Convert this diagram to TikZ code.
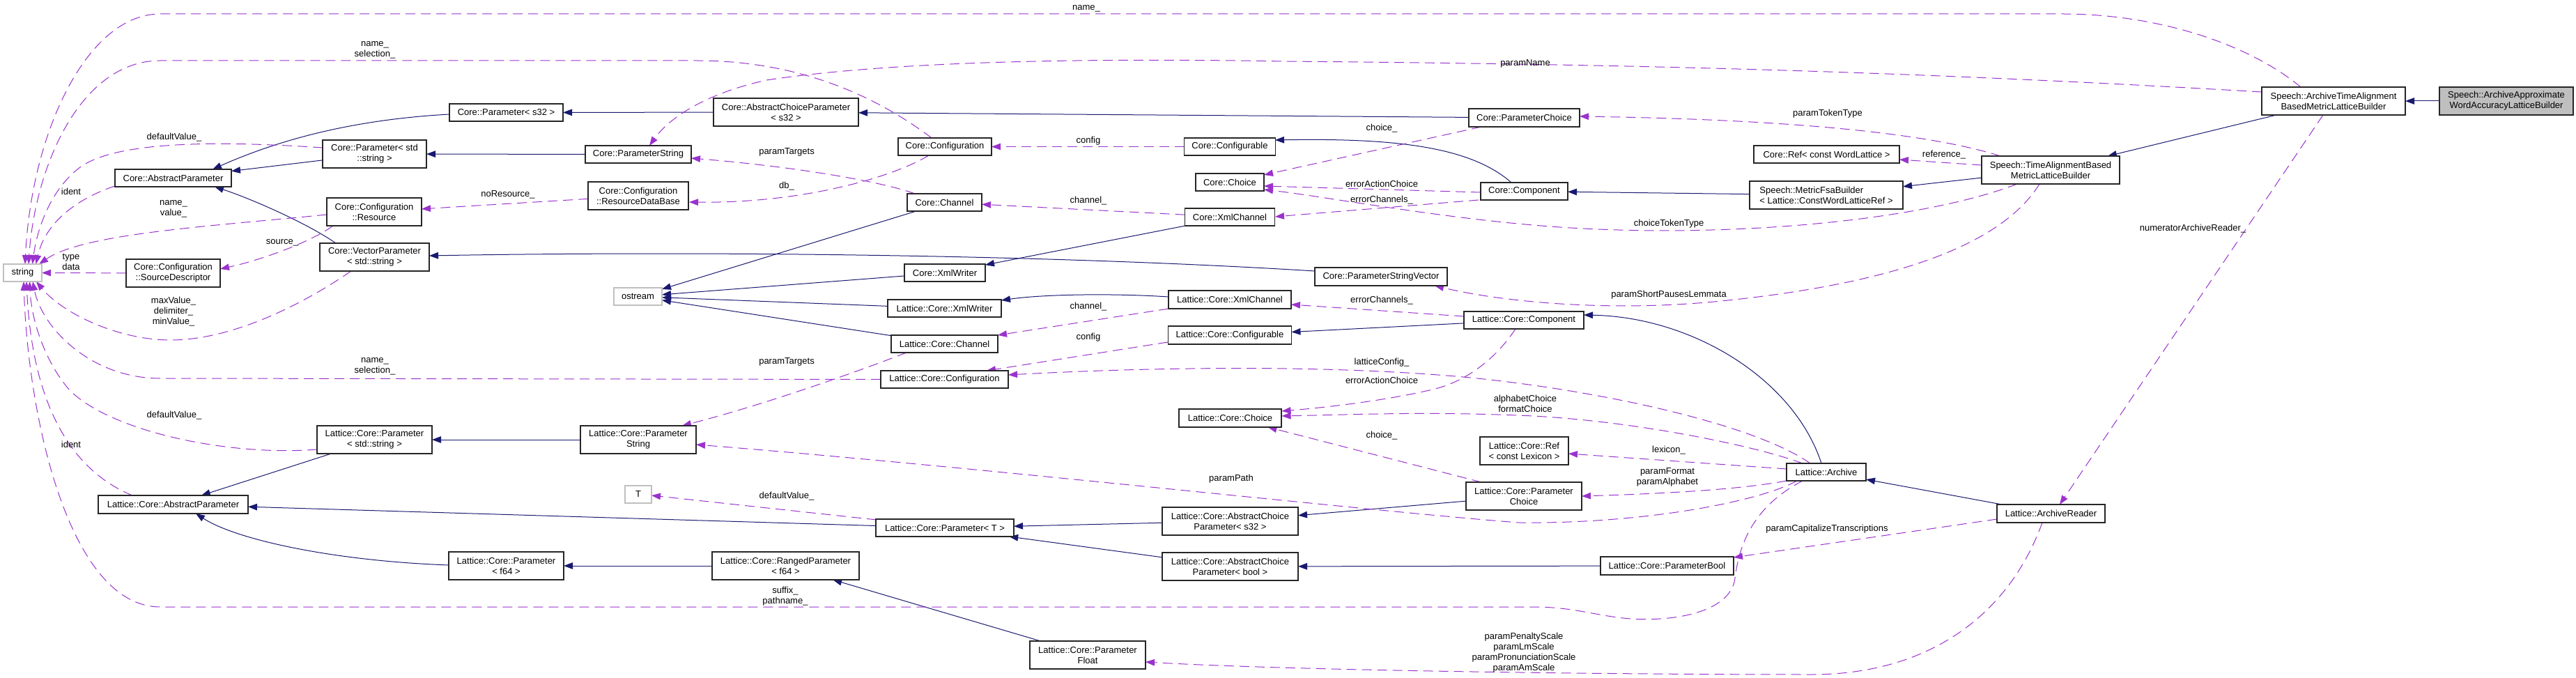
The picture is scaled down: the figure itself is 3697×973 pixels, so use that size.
\documentclass[tikz,border=0pt]{standalone}
\usepackage{fontspec}
\setmainfont{Liberation Sans}
\usetikzlibrary{arrows.meta}
\definecolor{mblue}{HTML}{191970}
\definecolor{dorch}{HTML}{9A32CD}
\definecolor{gbord}{HTML}{BFBFBF}
\pgfdeclarelayer{bg}
\pgfsetlayers{bg,main}
\newcommand{\fs}{\fontsize{13}{15}\selectfont}
\begin{document}
\begin{tikzpicture}[x=1pt,y=-1pt,
  every node/.style={font=\fs},
  box/.style={draw=black!85,line width=1.2pt,fill=white,inner sep=0pt,outer sep=0pt,align=center},
  gbox/.style={box,draw=gbord},
  lab/.style={inner sep=0pt,align=center},
  inh/.style={draw=mblue,line width=1pt,-{Triangle[length=13pt,width=9.5pt]}},
  dep/.style={draw=dorch,line width=1pt,dash pattern=on 14pt off 8pt,-{Triangle[length=13pt,width=9.5pt]}}]
\useasboundingbox (0,0) rectangle (3697,973);
% ---------------- nodes
\node[gbox,minimum width=55pt,minimum height=25pt] (str) at (32.5,391.5) {string};
\node[box,minimum width=167pt,minimum height=25pt] (cap) at (248.5,255.5) {Core::AbstractParameter};
\node[box,minimum width=149pt,minimum height=40pt] (cpstr) at (537.5,221) {Core::Parameter< std\\::string >};
\node[box,minimum width=136pt,minimum height=40pt] (cres) at (537,304) {Core::Configuration\\::Resource};
\node[box,minimum width=157pt,minimum height=40pt] (cvec) at (537.5,369) {Core::VectorParameter\\< std::string >};
\node[box,minimum width=135pt,minimum height=40pt] (csrc) at (248.5,392) {Core::Configuration\\::SourceDescriptor};
\node[box,minimum width=165pt,minimum height=40pt] (lpstr) at (537.5,631) {Lattice::Core::Parameter\\< std::string >};
\node[box,minimum width=215pt,minimum height=26pt] (lap) at (248.5,724) {Lattice::Core::AbstractParameter};
\node[box,minimum width=163pt,minimum height=25pt] (cps32) at (726.5,161.5) {Core::Parameter< s32 >};
\node[box,minimum width=208pt,minimum height=40pt] (cacp) at (1128,161) {Core::AbstractChoiceParameter\\< s32 >};
\node[box,minimum width=152pt,minimum height=25pt] (cpstring) at (916,221.5) {Core::ParameterString};
\node[box,minimum width=144pt,minimum height=40pt] (crdb) at (916,281) {Core::Configuration\\::ResourceDataBase};
\node[gbox,minimum width=69pt,minimum height=25pt] (ostream) at (915.5,425.5) {ostream};
\node[box,minimum width=166pt,minimum height=40pt] (lpstring) at (916,631) {Lattice::Core::Parameter\\String};
\node[gbox,minimum width=38pt,minimum height=25pt] (T) at (916,709.5) {T};
\node[box,minimum width=165pt,minimum height=40pt] (lpf64) at (726.5,812) {Lattice::Core::Parameter\\< f64 >};
\node[box,minimum width=211pt,minimum height=40pt] (lranged) at (1127.5,812) {Lattice::Core::RangedParameter\\< f64 >};
\node[box,minimum width=134pt,minimum height=25pt] (cconf) at (1356,210.5) {Core::Configuration};
\node[box,minimum width=131pt,minimum height=25pt] (cconfb) at (1765,210.5) {Core::Configurable};
\node[box,minimum width=98pt,minimum height=25pt] (cchoice) at (1765,261.5) {Core::Choice};
\node[box,minimum width=107pt,minimum height=25pt] (cchan) at (1355.5,290.5) {Core::Channel};
\node[box,minimum width=129pt,minimum height=25pt] (cxmlch) at (1765,311.5) {Core::XmlChannel};
\node[box,minimum width=116pt,minimum height=25pt] (cxmlw) at (1356,391.5) {Core::XmlWriter};
\node[box,minimum width=163pt,minimum height=25pt] (lxmlw) at (1355.5,442.5) {Lattice::Core::XmlWriter};
\node[box,minimum width=176pt,minimum height=26pt] (lxmlch) at (1765,430) {Lattice::Core::XmlChannel};
\node[box,minimum width=177pt,minimum height=26pt] (lconfb) at (1765,481) {Lattice::Core::Configurable};
\node[box,minimum width=153pt,minimum height=25pt] (lchan) at (1355.5,493.5) {Lattice::Core::Channel};
\node[box,minimum width=183pt,minimum height=25pt] (lconf) at (1355.5,544.5) {Lattice::Core::Configuration};
\node[box,minimum width=147pt,minimum height=26pt] (lchoice) at (1765.5,600) {Lattice::Core::Choice};
\node[box,minimum width=198pt,minimum height=25pt] (lpT) at (1356,757.5) {Lattice::Core::Parameter< T >};
\node[box,minimum width=195pt,minimum height=40pt] (lacps32) at (1765.5,748) {Lattice::Core::AbstractChoice\\Parameter< s32 >};
\node[box,minimum width=195pt,minimum height=40pt] (lacpbool) at (1765.5,813) {Lattice::Core::AbstractChoice\\Parameter< bool >};
\node[box,minimum width=166pt,minimum height=40pt] (lpfloat) at (1561,940) {Lattice::Core::Parameter\\Float};
\node[box,minimum width=159pt,minimum height=26pt] (cpchoice) at (2187.5,169) {Core::ParameterChoice};
\node[box,minimum width=125pt,minimum height=25pt] (ccomp) at (2187.5,274.5) {Core::Component};
\node[box,minimum width=190pt,minimum height=26pt] (cpsv) at (1982,397) {Core::ParameterStringVector};
\node[box,minimum width=172pt,minimum height=25pt] (lcomp) at (2187,459.5) {Lattice::Core::Component};
\node[box,minimum width=127pt,minimum height=40pt] (lref) at (2187.5,647) {Lattice::Core::Ref\\< const Lexicon >};
\node[box,minimum width=166pt,minimum height=40pt] (lpchoice) at (2187,712) {Lattice::Core::Parameter\\Choice};
\node[box,minimum width=191pt,minimum height=26pt] (lpbool) at (2392.5,812) {Lattice::Core::ParameterBool};
\node[box,minimum width=209pt,minimum height=25pt] (cref) at (2621.5,221.5) {Core::Ref< const WordLattice >};
\node[box,minimum width=198pt,minimum height=40pt] (stamlb) at (2943,244) {Speech::TimeAlignmentBased\\MetricLatticeBuilder};
\node[box,minimum width=220pt,minimum height=40pt,align=left] (smfb) at (2621,280) {Speech::MetricFsaBuilder\\< Lattice::ConstWordLatticeRef >};
\node[box,minimum width=114pt,minimum height=25pt] (lArch) at (2621,677.5) {Lattice::Archive};
\node[box,minimum width=155pt,minimum height=26pt] (lArchR) at (2943.5,737) {Lattice::ArchiveReader};
\node[box,minimum width=206pt,minimum height=40pt] (satamlb) at (3349,145) {Speech::ArchiveTimeAlignment\\BasedMetricLatticeBuilder};
\node[box,fill=gbord,minimum width=192pt,minimum height=40pt] (saawa) at (3597,145) {Speech::ArchiveApproximate\\WordAccuracyLatticeBuilder};
% ---------------- labels
\node[lab] (l1) at (1559,12) {name\_};
\node[lab] (l2) at (538,72) {name\_\\selection\_};
\node[lab] (l3) at (250,197) {defaultValue\_};
\node[lab] (l4) at (102,275) {ident};
\node[lab] (l5) at (249,300) {name\_\\value\_};
\node[lab] (l6) at (405,348) {source\_};
\node[lab] (l7) at (102,376) {type\\data};
\node[lab] (l8) at (249,447) {maxValue\_\\delimiter\_\\minValue\_};
\node[lab] (l9) at (538,526) {name\_\\selection\_};
\node[lab] (l10) at (250,596) {defaultValue\_};
\node[lab] (l11) at (102,638) {ident};
\node[lab] (l12) at (1129,218) {paramTargets};
\node[lab] (l13) at (1129,267) {db\_};
\node[lab] (l14) at (729,279) {noResource\_};
\node[lab] (l15) at (1129,519) {paramTargets};
\node[lab] (l16) at (1129,712) {defaultValue\_};
\node[lab] (l17) at (1127,856) {suffix\_\\pathname\_};
\node[lab] (l18) at (1562,202) {config};
\node[lab] (l19) at (1562,288) {channel\_};
\node[lab] (l20) at (1562,440) {channel\_};
\node[lab] (l21) at (1562,484) {config};
\node[lab] (l22) at (1767,687) {paramPath};
\node[lab] (l23) at (2189,91) {paramName};
\node[lab] (l24) at (1983,184) {choice\_};
\node[lab] (l25) at (1983,264) {errorActionChoice};
\node[lab] (l26) at (1983,287) {errorChannels\_};
\node[lab] (l27) at (2395,321) {choiceTokenType};
\node[lab] (l28) at (2395,423) {paramShortPausesLemmata};
\node[lab] (l29) at (1983,431) {errorChannels\_};
\node[lab] (l30) at (1983,520) {latticeConfig\_};
\node[lab] (l31) at (1983,546) {errorActionChoice};
\node[lab] (l32) at (2189,579) {alphabetChoice\\formatChoice};
\node[lab] (l33) at (1983,625) {choice\_};
\node[lab] (l34) at (2395,646) {lexicon\_};
\node[lab] (l35) at (2393,685) {paramFormat\\paramAlphabet};
\node[lab] (l36) at (2187,937) {paramPenaltyScale\\paramLmScale\\paramPronunciationScale\\paramAmScale};
\node[lab] (l37) at (2623,163) {paramTokenType};
\node[lab] (l38) at (2790,222) {reference\_};
\node[lab] (l39) at (3147,328) {numeratorArchiveReader\_};
\node[lab] (l40) at (2622,759) {paramCapitalizeTranscriptions};
% ---------------- edges
\begin{pgfonlayer}{bg}
% inheritance
\draw[inh] (cpstr) -- (cap);
\draw[inh] ([shift={(-81.5,2.5)}]cps32.center) .. controls (500,172) and (395,203) .. ([shift={(56.5,-12.5)}]cap.center);
\draw[inh] ([shift={(-55.5,-20)}]cvec.center) .. controls (440,320) and (360,285) .. ([shift={(59.5,12.5)}]cap.center);
\draw[inh] (cpstring) -- (cpstr);
\draw[inh] (cacp) -- (cps32);
\draw[inh] (cpchoice) -- (cacp);
\draw[inh] ([shift={(-95,-8)}]cpsv.center) .. controls (1500,365) and (1000,360) .. ([shift={(78.5,-2)}]cvec.center);
\draw[inh] ([shift={(-18.5,-12.5)}]ccomp.center) .. controls (2110,210) and (2000,198) .. ([shift={(65,-9.5)}]cconfb.center);
\draw[inh] (smfb) -- (ccomp);
\draw[inh] (stamlb) -- (smfb);
\draw[inh] (satamlb) -- (stamlb);
\draw[inh] (saawa) -- (satamlb);
\draw[inh] (cchan) -- (ostream);
\draw[inh] (cxmlw) -- (ostream);
\draw[inh] (lxmlw) -- (ostream);
\draw[inh] (lchan) -- (ostream);
\draw[inh] (cxmlch) -- (cxmlw);
\draw[inh] ([shift={(-88,-4)}]lxmlch.center) .. controls (1600,421) and (1500,422) .. ([shift={(81.5,-11.5)}]lxmlw.center);
\draw[inh] (lcomp) -- (lconfb);
\draw[inh] ([shift={(-7,-12.5)}]lArch.center) .. controls (2575,545) and (2430,455) .. ([shift={(86,-7.5)}]lcomp.center);
\draw[inh] (lArchR) -- (lArch);
\draw[inh] (lpchoice) -- (lacps32);
\draw[inh] (lpbool) -- (lacpbool);
\draw[inh] (lacps32) -- (lpT);
\draw[inh] (lacpbool) -- (lpT);
\draw[inh] (lpT) -- (lap);
\draw[inh] ([shift={(-82.5,-1)}]lpf64.center) .. controls (480,805) and (340,775) .. ([shift={(32.5,13)}]lap.center);
\draw[inh] (lpstr) -- (lap);
\draw[inh] (lpstring) -- (lpstr);
\draw[inh] (lranged) -- (lpf64);
\draw[inh] (lpfloat) -- (lranged);
% usage (to string)
\draw[dep] ([shift={(-47,-20)}]satamlb.center) .. controls (3230,65) and (3100,20) .. (2960,20) -- (230,20) .. controls (125,20) and (45,190) .. ([shift={(3.5,-12.5)}]str.center);
\draw[dep] ([shift={(-19,-12.5)}]cconf.center) .. controls (1260,140) and (1150,87) .. (1000,87) -- (230,87) .. controls (115,87) and (50,240) .. ([shift={(8.5,-12.5)}]str.center);
\draw[dep] ([shift={(-74.5,-9)}]cpstr.center) .. controls (330,203) and (170,200) .. (115,240) .. controls (72,272) and (53,330) .. ([shift={(14,-12.5)}]str.center);
\draw[dep] ([shift={(-83.5,11.5)}]cap.center) .. controls (110,285) and (65,320) .. ([shift={(19,-12.5)}]str.center);
\draw[dep] ([shift={(-68,4)}]cres.center) .. controls (300,325) and (120,335) .. ([shift={(23.5,-12.5)}]str.center);
\draw[dep] (csrc) -- (str);
\draw[dep] ([shift={(-33.5,20)}]cvec.center) .. controls (430,440) and (330,488) .. (245,488) .. controls (170,488) and (90,450) .. ([shift={(19.5,12.5)}]str.center);
\draw[dep] (lconf.west) -- (230,543) .. controls (130,543) and (60,470) .. ([shift={(14.5,12.5)}]str.center);
\draw[dep] ([shift={(-82.5,14)}]lpstr.center) .. controls (330,655) and (160,620) .. (100,560) .. controls (65,520) and (45,460) .. ([shift={(10,12.5)}]str.center);
\draw[dep] ([shift={(-58.5,-13)}]lap.center) .. controls (90,670) and (45,560) .. ([shift={(5.5,12.5)}]str.center);
\draw[dep] ([shift={(-34,12.5)}]lArch.center) .. controls (2510,730) and (2495,790) .. (2490,830) .. controls (2483,880) and (2400,892) .. (2340,888) .. controls (2290,884) and (2260,871) .. (2200,871) -- (230,871) .. controls (100,871) and (40,600) .. ([shift={(1.5,12.5)}]str.center);
% other usage
\draw[dep] ([shift={(-59,20)}]cres.center) .. controls (450,345) and (380,372) .. ([shift={(67.5,-6)}]csrc.center);
\draw[dep] (crdb) -- (cres);
\draw[dep] ([shift={(-23,12.5)}]cconf.center) .. controls (1280,255) and (1150,292) .. ([shift={(73,9)}]crdb.center);
\draw[dep] ([shift={(-42.5,-12.5)}]cchan.center) .. controls (1270,262) and (1150,240) .. ([shift={(76,5.5)}]cpstring.center);
\draw[dep] ([shift={(-103,-13)}]satamlb.center) .. controls (2700,100) and (2300,92) .. (1845,88) .. controls (1600,84) and (1300,85) .. (1100,115) .. controls (1010,135) and (960,170) .. ([shift={(16,-12.5)}]cpstring.center);
\draw[dep] (cconfb) -- (cconf);
\draw[dep] (cxmlch) -- (cchan);
\draw[dep] ([shift={(-61.5,13)}]cpchoice.center) -- ([shift={(49,-10.5)}]cchoice.center);
\draw[dep] ([shift={(-62.5,1.5)}]ccomp.center) -- ([shift={(49,5.5)}]cchoice.center);
\draw[dep] ([shift={(-65.5,12.5)}]ccomp.center) -- ([shift={(65,-0.5)}]cxmlch.center);
\draw[dep] ([shift={(-48,20)}]stamlb.center) .. controls (2750,320) and (2450,345) .. (2200,323) .. controls (2050,310) and (1900,282) .. ([shift={(49,10.5)}]cchoice.center);
\draw[dep] ([shift={(-72,-20)}]stamlb.center) .. controls (2780,195) and (2600,172) .. ([shift={(79.5,-2)}]cpchoice.center);
\draw[dep] ([shift={(-99,-7)}]stamlb.center) -- ([shift={(104.5,7.5)}]cref.center);
\draw[dep] ([shift={(-16,20)}]stamlb.center) .. controls (2880,340) and (2750,405) .. (2460,433) .. controls (2300,448) and (2150,432) .. ([shift={(77,13)}]cpsv.center);
\draw[dep] ([shift={(-86,-5.5)}]lcomp.center) -- ([shift={(88,7)}]lxmlch.center);
\draw[dep] ([shift={(-12,12.5)}]lcomp.center) .. controls (2150,510) and (2110,545) .. (2060,558) .. controls (1990,575) and (1900,585) .. ([shift={(74,-10)}]lchoice.center);
\draw[dep] ([shift={(-23,-12.5)}]lArch.center) .. controls (2520,610) and (2300,560) .. (2100,541) .. controls (1900,523) and (1650,527) .. ([shift={(91.5,-6.5)}]lconf.center);
\draw[dep] ([shift={(-89,10)}]lconfb.center) -- ([shift={(60.5,-12.5)}]lconf.center);
\draw[dep] ([shift={(-88,13)}]lxmlch.center) -- ([shift={(76.5,-12.5)}]lchan.center);
\draw[dep] ([shift={(-54.5,12.5)}]lchan.center) .. controls (1200,545) and (1080,585) .. ([shift={(63,-20)}]lpstring.center);
\draw[dep] ([shift={(-34,-12.5)}]lArch.center) .. controls (2520,640) and (2350,605) .. (2200,597) .. controls (2050,590) and (1950,595) .. ([shift={(74,-3)}]lchoice.center);
\draw[dep] ([shift={(-61,-20)}]lpchoice.center) -- ([shift={(54,13)}]lchoice.center);
\draw[dep] ([shift={(-57,-4.5)}]lArch.center) -- ([shift={(63.5,4)}]lref.center);
\draw[dep] ([shift={(-57,12.5)}]lArch.center) .. controls (2500,702) and (2400,708) .. ([shift={(83,0)}]lpchoice.center);
\draw[dep] ([shift={(-42,12.5)}]lArch.center) .. controls (2520,722) and (2350,752) .. (2180,750) .. controls (1980,735) and (1400,670) .. ([shift={(83,7)}]lpstring.center);
\draw[dep] ([shift={(-77.5,8)}]lArchR.center) -- ([shift={(95.5,-12)}]lpbool.center);
\draw[dep] ([shift={(-15,20)}]satamlb.center) -- ([shift={(12.5,-13)}]lArchR.center);
\draw[dep] ([shift={(-12.5,13)}]lArchR.center) .. controls (2880,890) and (2760,968) .. (2600,968) .. controls (2300,968) and (1850,962) .. ([shift={(83,10)}]lpfloat.center);
\draw[dep] ([shift={(-98,-11.5)}]lpT.center) -- ([shift={(19,1.5)}]T.center);
\end{pgfonlayer}
\end{tikzpicture}
\end{document}
